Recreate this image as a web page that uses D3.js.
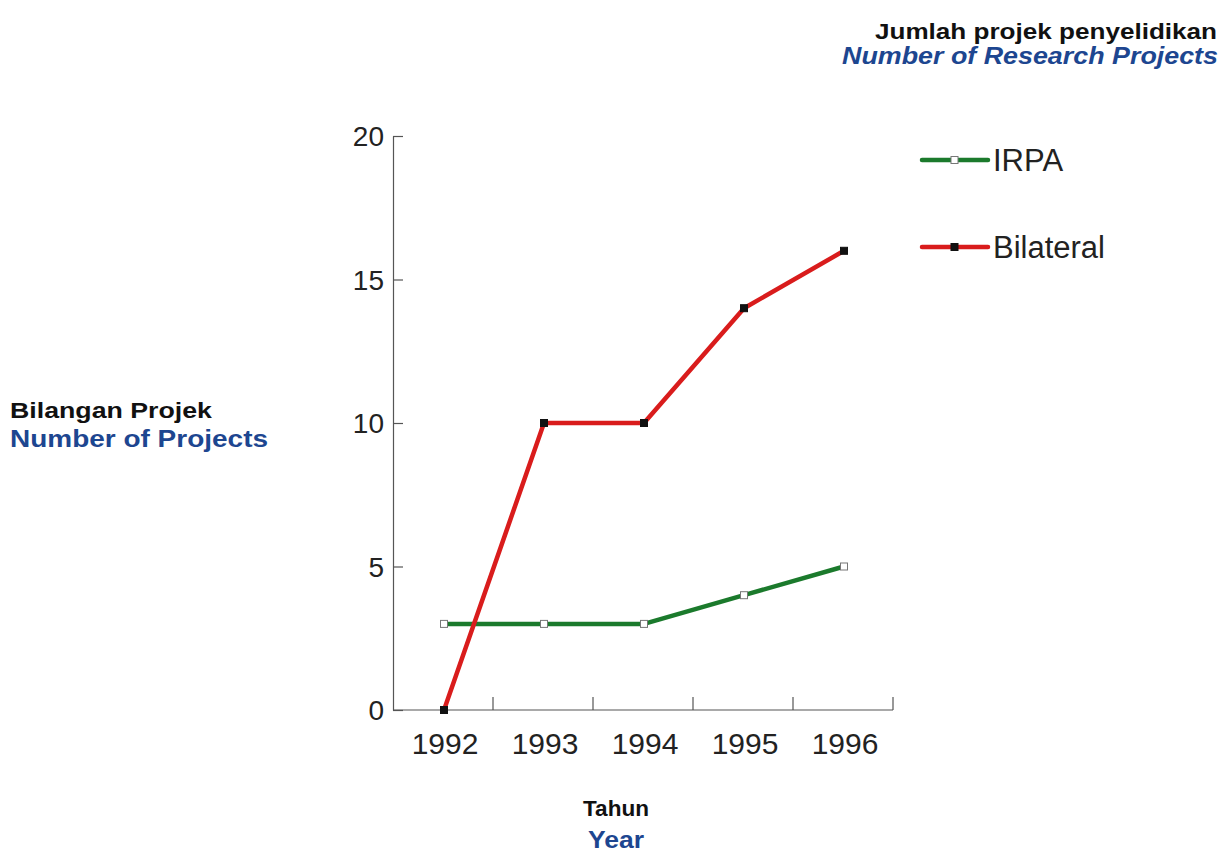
<!DOCTYPE html>
<html>
<head>
<meta charset="utf-8">
<script src="https://cdn.jsdelivr.net/npm/d3@7"></script>
<style>
  html, body { margin: 0; padding: 0; background: #fff; }
  svg { display: block; font-family: "Liberation Sans", Arial, Helvetica, sans-serif; }
</style>
</head>
<body>
<svg id="chart" width="1230" height="855"></svg>
<script>
// Years on the horizontal axis
const years = ["1992", "1993", "1994", "1995", "1996"];
// Number of projects per year
const irpaValues = [3, 3, 3, 4, 5];
const bilateralValues = [0, 10, 10, 14, 16];
// Vertical axis ticks
const yTicks = [0, 5, 10, 15, 20];

const seriesNames = ["IRPA", "Bilateral"];
const seriesColors = ["#1b7a2c", "#d91c1c"];
const markerFills = ["#ffffff", "#111111"];

const svg = d3.select("#chart");

const plot = { left: 393, right: 893, top: 136, bottom: 710 };

const x = d3.scaleBand().domain(years).range([plot.left, plot.right]).paddingInner(0).paddingOuter(0);
const y = d3.scaleLinear().domain([0, 20]).range([plot.bottom, plot.top]);

const axisColor = "#555";

// Y axis: ticks pointing into the plot
const yAxis = svg.append("g").attr("transform", `translate(${plot.left},0)`)
  .call(d3.axisRight(y).tickValues(yTicks).tickSize(10).tickSizeOuter(0).tickFormat(""));
yAxis.select(".domain").attr("stroke", axisColor).attr("stroke-width", 1.2);
yAxis.selectAll(".tick line").attr("stroke", axisColor).attr("stroke-width", 1.2);
// Y tick labels on the outside
svg.append("g").selectAll("text").data(yTicks).join("text")
  .attr("x", plot.left - 9).attr("y", d => y(d) + 10)
  .attr("text-anchor", "end").attr("font-size", 28).attr("fill", "#222")
  .text(d => d);

// X axis: baseline with separators between years pointing upward
svg.append("line")
  .attr("x1", plot.left).attr("x2", plot.right)
  .attr("y1", plot.bottom).attr("y2", plot.bottom)
  .attr("stroke", axisColor).attr("stroke-width", 1.2);
svg.append("g").selectAll("line").data(years).join("line")
  .attr("x1", d => x(d) + x.bandwidth()).attr("x2", d => x(d) + x.bandwidth())
  .attr("y1", plot.bottom).attr("y2", plot.bottom - 13)
  .attr("stroke", axisColor).attr("stroke-width", 1.2);
svg.append("g").selectAll("text").data(years).join("text")
  .attr("x", d => x(d) + x.bandwidth() / 2 + 2).attr("y", plot.bottom + 44)
  .attr("text-anchor", "middle").attr("font-size", 30).attr("fill", "#222")
  .text(d => d);

const cx = d => x(d) + x.bandwidth() / 2 + 1;

const line = d3.line().x(d => cx(d.year)).y(d => y(d.value));

const seriesData = [irpaValues, bilateralValues].map(vals =>
  years.map((yr, i) => ({ year: yr, value: vals[i] })));

// Draw IRPA first, then Bilateral on top
seriesData.forEach((data, i) => {
  svg.append("path").datum(data)
    .attr("d", line).attr("fill", "none")
    .attr("stroke", seriesColors[i]).attr("stroke-width", 4.5)
    .attr("stroke-linejoin", "round");
  svg.append("g").selectAll("rect").data(data).join("rect")
    .attr("x", d => cx(d.year) - 3.5).attr("y", d => y(d.value) - 3.5)
    .attr("width", 7).attr("height", 7)
    .attr("fill", markerFills[i]).attr("stroke", i === 0 ? "#777" : "#111").attr("stroke-width", 1);
});

// Legend
const legendY = [160, 247];
seriesNames.forEach((name, i) => {
  const g = svg.append("g");
  g.append("line").attr("x1", 922).attr("x2", 988)
    .attr("y1", legendY[i]).attr("y2", legendY[i])
    .attr("stroke", seriesColors[i]).attr("stroke-width", 4.5).attr("stroke-linecap", "round");
  g.append("rect").attr("x", 951).attr("y", legendY[i] - 3.5).attr("width", 7).attr("height", 7)
    .attr("fill", markerFills[i]).attr("stroke", i === 0 ? "#777" : "#111").attr("stroke-width", 1);
  g.append("text").attr("x", 993).attr("y", legendY[i] + 11)
    .attr("font-size", 31).attr("fill", "#222").text(name);
});

const blue = "#1d4690";

// Bold captions set in a wide face: width is fixed per caption
function caption(text, opts) {
  const t = svg.append("text")
    .attr("x", opts.x).attr("y", opts.y)
    .attr("font-size", opts.size).attr("font-weight", "bold")
    .attr("fill", opts.color)
    .attr("text-anchor", opts.anchor || "start")
    .attr("textLength", opts.width).attr("lengthAdjust", "spacingAndGlyphs")
    .text(text);
  if (opts.italic) t.attr("font-style", "italic");
  return t;
}

// Title, top right
caption("Jumlah projek penyelidikan", { x: 1217, y: 39, size: 22, color: "#111", anchor: "end", width: 342 });
caption("Number of Research Projects", { x: 1218, y: 64, size: 23, color: blue, anchor: "end", width: 376, italic: true });

// Y axis title
caption("Bilangan Projek", { x: 10, y: 418, size: 22, color: "#111", width: 202 });
caption("Number of Projects", { x: 10, y: 447, size: 23, color: blue, width: 258 });

// X axis title
caption("Tahun", { x: 616, y: 816, size: 22, color: "#111", anchor: "middle", width: 66 });
caption("Year", { x: 616, y: 848, size: 23, color: blue, anchor: "middle", width: 56 });
</script>
</body>
</html>
